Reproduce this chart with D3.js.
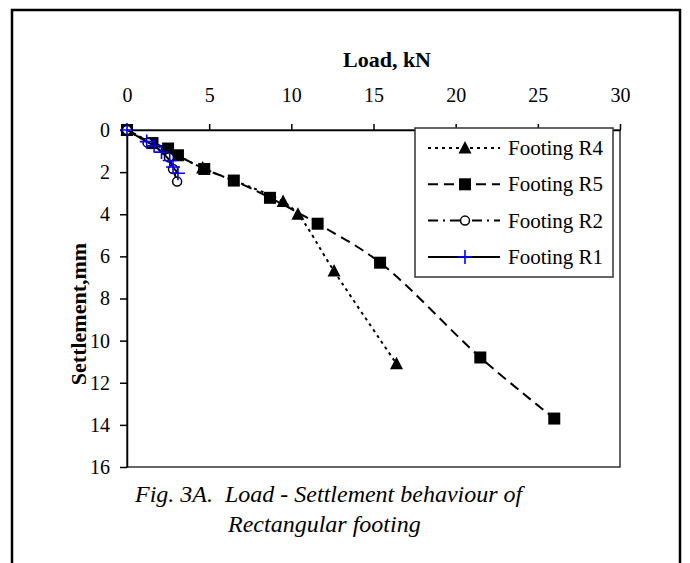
<!DOCTYPE html>
<html lang="en">
<head>
<meta charset="utf-8">
<title>Load - Settlement behaviour of Rectangular footing</title>
<script src="https://cdn.jsdelivr.net/npm/d3@7"></script>
<style>
  body { margin: 0; background: #fff; }
  .axis path, .axis line { stroke: #000; stroke-width: 1.5; }
</style>
</head>
<body>
<script>
// values
var xTicks = [0, 5, 10, 15, 20, 25, 30];
var yTicks = [0, 2, 4, 6, 8, 10, 12, 14, 16];

var loadR4 = [0, 4.6, 9.5, 10.4, 12.6, 16.4];
var settleR4 = [0, 1.8, 3.4, 4.0, 6.7, 11.1];

var loadR5 = [0, 1.55, 2.5, 3.1, 4.7, 6.5, 8.7, 11.6, 15.4, 21.5, 26.0];
var settleR5 = [0, 0.62, 0.88, 1.2, 1.85, 2.4, 3.22, 4.45, 6.3, 10.8, 13.7];

var loadR2 = [0, 1.25, 2.55, 2.8, 3.05];
var settleR2 = [0, 0.6, 1.3, 1.85, 2.45];

var loadR1 = [0, 1.2, 1.65, 2.1, 2.6, 2.8, 3.1];
var settleR1 = [0, 0.55, 0.75, 1.05, 1.45, 1.76, 2.05];

var seriesNames = ["Footing R4", "Footing R5", "Footing R2", "Footing R1"];

var fontName = "Liberation Serif";

var W = 690, H = 563;
var margin = {top: 130, left: 127, right: 70, bottom: 96};
var width = W - margin.left - margin.right,
    height = H - margin.top - margin.bottom;

var svg = d3.select("body").append("svg")
    .attr("width", W)
    .attr("height", H);

// outer frame of the figure
svg.append("rect")
    .attr("x", 12).attr("y", 10)
    .attr("width", 668).attr("height", 580)
    .attr("fill", "none")
    .attr("stroke", "#000")
    .attr("stroke-width", 2.5);

var g = svg.append("g")
    .attr("transform", "translate(" + margin.left + "," + margin.top + ")");

var x = d3.scaleLinear().domain([0, 30]).range([0, width]);
var y = d3.scaleLinear().domain([0, 16]).range([0, height]);

// plot area box
g.append("rect")
    .attr("width", width).attr("height", height)
    .attr("fill", "none")
    .attr("stroke", "#333")
    .attr("stroke-width", 1.5);

g.append("g")
    .attr("class", "axis")
    .call(d3.axisTop(x).tickValues(xTicks).tickSize(6).tickSizeOuter(0).tickPadding(22));

g.append("g")
    .attr("class", "axis")
    .call(d3.axisLeft(y).tickValues(yTicks).tickSize(7).tickSizeOuter(0).tickPadding(10));

svg.selectAll(".axis text")
    .attr("fill", "#000")
    .attr("font-size", 20);

svg.append("text")
    .attr("x", 387).attr("y", 67)
    .attr("text-anchor", "middle")
    .attr("font-size", 22)
    .attr("font-weight", "bold")
    .text("Load, kN");

svg.append("text")
    .attr("transform", "translate(86,314) rotate(-90)")
    .attr("text-anchor", "middle")
    .attr("font-size", 22)
    .attr("font-weight", "bold")
    .text("Settlement,mm");

svg.append("text")
    .attr("x", 135).attr("y", 502)
    .attr("font-size", 24)
    .attr("font-style", "italic")
    .attr("xml:space", "preserve")
    .text("Fig. 3A.  Load - Settlement behaviour of");

svg.append("text")
    .attr("x", 228).attr("y", 532)
    .attr("font-size", 24)
    .attr("font-style", "italic")
    .text("Rectangular footing");

function pts(xs, ys) {
    return xs.map(function(d, i) { return {x: d, y: ys[i]}; });
}

var line = d3.line()
    .x(function(d) { return x(d.x); })
    .y(function(d) { return y(d.y); })
    .curve(d3.curveCatmullRom);

var series = [
    {name: seriesNames[1], data: pts(loadR5, settleR5), dash: "10,6", marker: "square"},
    {name: seriesNames[0], data: pts(loadR4, settleR4), dash: "3,4", marker: "triangle"},
    {name: seriesNames[2], data: pts(loadR2, settleR2), dash: "10,5,2,5", marker: "circle"},
    {name: seriesNames[3], data: pts(loadR1, settleR1), dash: null, marker: "cross"}
];

function drawMarker(sel, type) {
    if (type === "square") {
        sel.append("rect")
            .attr("x", -6).attr("y", -6).attr("width", 12).attr("height", 12)
            .attr("fill", "#000");
    } else if (type === "triangle") {
        sel.append("path")
            .attr("d", "M0,-7L6.5,5.5L-6.5,5.5Z")
            .attr("fill", "#000");
    } else if (type === "circle") {
        sel.append("circle")
            .attr("r", 4.5)
            .attr("fill", "#fff")
            .attr("stroke", "#000")
            .attr("stroke-width", 1.5);
    } else {
        sel.append("path")
            .attr("d", "M-7,0H7M0,-7V7")
            .attr("stroke", "#0000ff")
            .attr("stroke-width", 1.6);
    }
}

series.forEach(function(s) {
    g.append("path")
        .datum(s.data)
        .attr("d", line)
        .attr("fill", "none")
        .attr("stroke", "#000")
        .attr("stroke-width", 2)
        .attr("stroke-dasharray", s.dash);

    g.selectAll(null)
        .data(s.data)
        .enter()
        .append("g")
        .attr("transform", function(d) { return "translate(" + x(d.x) + "," + y(d.y) + ")"; })
        .each(function() { drawMarker(d3.select(this), s.marker); });
});

// legend
var legend = svg.append("g").attr("transform", "translate(415,128)");
legend.append("rect")
    .attr("width", 198).attr("height", 149)
    .attr("fill", "#fff")
    .attr("stroke", "#333")
    .attr("stroke-width", 1.5);

var legendOrder = [series[1], series[0], series[2], series[3]];
legendOrder.forEach(function(s, i) {
    var row = legend.append("g").attr("transform", "translate(0," + (20 + i * 36.3) + ")");
    row.append("line")
        .attr("x1", 13).attr("x2", 85)
        .attr("stroke", "#000")
        .attr("stroke-width", 2)
        .attr("stroke-dasharray", s.dash);
    drawMarker(row.append("g").attr("transform", "translate(50,0)"), s.marker);
    row.append("text")
        .attr("x", 93).attr("y", 7)
        .attr("font-size", 21)
        .text(s.name);
});

// every text gets the serif face directly
svg.selectAll("text").attr("font-family", fontName);
</script>
</body>
</html>
